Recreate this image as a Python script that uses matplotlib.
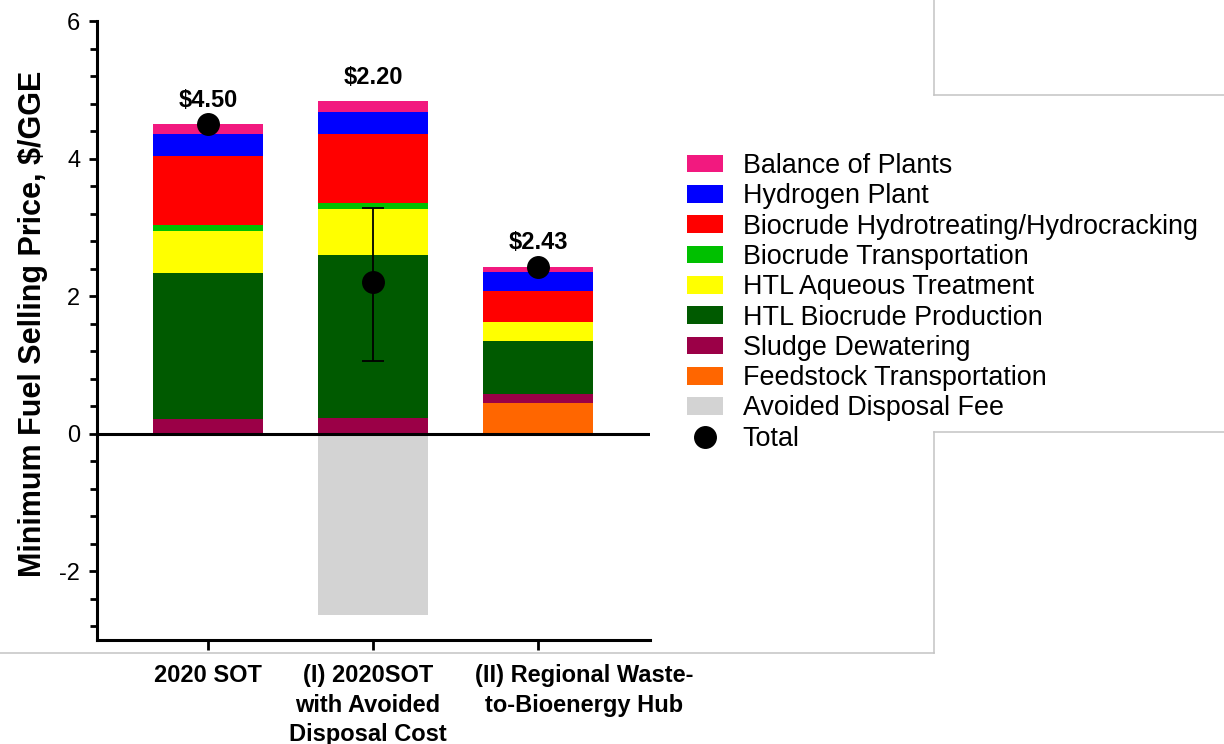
import numpy as np
import matplotlib
matplotlib.use("Agg")
import matplotlib.pyplot as plt
from matplotlib.lines import Line2D
from matplotlib.patches import Patch
from matplotlib.ticker import MultipleLocator
from matplotlib.transforms import ScaledTranslation

plt.rcParams["font.family"] = ["Liberation Sans", "DejaVu Sans"]
plt.rcParams["axes.unicode_minus"] = False

scenarios = ["2020 SOT",
             "(I) 2020SOT\nwith Avoided\nDisposal Cost",
             "(II) Regional Waste-\nto-Bioenergy Hub"]

# cost contributions in $/GGE, bottom of the stack first
feedstock_transport = [0.00, 0.00, 0.45]
sludge_dewatering = [0.22, 0.23, 0.12]
htl_biocrude = [2.11, 2.37, 0.78]
htl_aqueous = [0.61, 0.66, 0.28]
biocrude_transport = [0.10, 0.10, 0.00]
hydrotreating = [0.99, 1.00, 0.45]
hydrogen_plant = [0.33, 0.31, 0.27]
balance_of_plants = [0.14, 0.16, 0.08]
avoided_disposal = [0.00, -2.63, 0.00]

totals = [4.50, 2.20, 2.43]
range_low = [np.nan, 1.05, np.nan]
range_high = [np.nan, 3.28, np.nan]

stack = [
    ("Feedstock Transportation", feedstock_transport, "#FF6600"),
    ("Sludge Dewatering", sludge_dewatering, "#9B0047"),
    ("HTL Biocrude Production", htl_biocrude, "#005A00"),
    ("HTL Aqueous Treatment", htl_aqueous, "#FFFF00"),
    ("Biocrude Transportation", biocrude_transport, "#00C000"),
    ("Biocrude Hydrotreating/Hydrocracking", hydrotreating, "#FF0000"),
    ("Hydrogen Plant", hydrogen_plant, "#0000FF"),
    ("Balance of Plants", balance_of_plants, "#F2197F"),
]
grey = "#D3D3D3"

fig = plt.figure(figsize=(12.24, 7.44), dpi=100)
ax = fig.add_axes([97 / 1224, 1 - 640 / 744, 553 / 1224, 619 / 744])

x = np.arange(len(scenarios))
width = 0.667

bottom = np.zeros(len(scenarios))
for name, vals, color in stack:
    vals = np.array(vals)
    ax.bar(x, vals, width, bottom=bottom, color=color, linewidth=0, zorder=2)
    bottom += vals
ax.bar(x, avoided_disposal, width, color=grey, linewidth=0, zorder=2)

ax.axhline(0, color="black", lw=2.2, zorder=3)

# total marker, with the uncertainty range where one exists
ax.plot(x, totals, "o", color="black", markersize=15.5, zorder=5)
low = np.array(range_low)
high = np.array(range_high)
tot = np.array(totals)
has_range = ~np.isnan(low)
ax.errorbar(x[has_range], tot[has_range],
            yerr=[tot[has_range] - low[has_range], high[has_range] - tot[has_range]],
            fmt="none", ecolor="black", elinewidth=1.3, capsize=8, capthick=1.3, zorder=4)

for xi, top, t in zip(x, bottom, totals):
    ax.annotate(f"${t:.2f}", xy=(xi, top), xytext=(0, 12.5), textcoords="offset points",
                ha="center", va="baseline", fontsize=17, fontweight="bold")

ax.set_xlim(-0.673, 2.679)
ax.set_ylim(-3, 6)
ax.set_yticks([-2, 0, 2, 4, 6])
ax.yaxis.set_minor_locator(MultipleLocator(0.4))
ax.set_xticks(x)
ax.set_xticklabels(scenarios, fontsize=17, fontweight="bold", linespacing=1.35)
ax.tick_params(axis="y", which="major", length=6, width=2, labelsize=17, pad=6)
ax.tick_params(axis="y", which="minor", length=5, width=2)
ax.tick_params(axis="x", length=7, width=2, pad=10.5)

# nudge the category labels sideways so the long ones don't collide
for label, dx in zip(ax.get_xticklabels(), [0, -5, 46]):
    label.set_transform(label.get_transform() + ScaledTranslation(dx / 100, 0, fig.dpi_scale_trans))

for side in ["top", "right"]:
    ax.spines[side].set_visible(False)
for side in ["left", "bottom"]:
    ax.spines[side].set_linewidth(2.2)

ax.set_ylabel("Minimum Fuel Selling Price, $/GGE", fontsize=22, fontweight="bold")
ax.yaxis.set_label_coords(-0.088, 0.511)

handles = [Patch(facecolor=c, label=n) for n, _, c in stack[::-1]]
handles.append(Patch(facecolor=grey, label="Avoided Disposal Fee"))
handles.append(Line2D([], [], marker="o", color="black", linestyle="none",
                      markersize=15.5, label="Total"))
fig.legend(handles=handles, loc="upper left", bbox_to_anchor=(687 / 1224, 1 - 153 / 744),
           frameon=False, fontsize=19.4, handlelength=1.33, handleheight=0.63,
           handletextpad=0.74, labelspacing=0.16, borderpad=0, borderaxespad=0)

# thin grey frame lines around the legend area
frame = [((934, 934), (0, 95)), ((934, 1224), (95, 95)),
         ((934, 1224), (432, 432)), ((934, 934), (432, 653)), ((0, 934), (653, 653))]
for xs, ys in frame:
    fig.add_artist(Line2D([v / 1224 for v in xs], [1 - v / 744 for v in ys],
                          color="#C4C4C4", lw=1.1))

fig.savefig("out.png", dpi=100)
